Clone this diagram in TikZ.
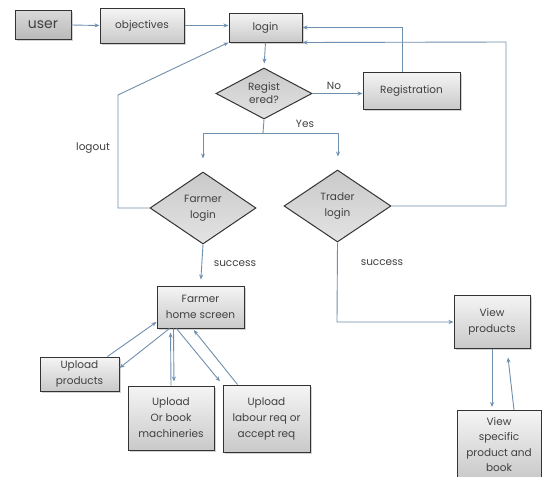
\documentclass[tikz,border=0pt]{standalone}
\usepackage{fontspec}
\setmainfont{Poppins}
\usetikzlibrary{arrows.meta,shapes.geometric,shadows,calc}
\definecolor{lnc}{HTML}{6F8FAE}
\definecolor{txc}{HTML}{404040}
\definecolor{bdc}{HTML}{333333}
\begin{document}
\begin{tikzpicture}[x=1pt,y=-1pt,
  font=\fontsize{10.5}{16}\selectfont,
  every node/.style={text=txc},
  box/.style={draw=bdc,line width=1pt,top color=gray!8,bottom color=gray!42,
    align=center,inner sep=0pt,
    drop shadow={shadow xshift=1.5pt,shadow yshift=-1.5pt,opacity=0.35}},
  dbox/.style={box,top color=gray!30,bottom color=gray!55},
  dia/.style={diamond,draw=bdc,line width=1pt,top color=gray!42,bottom color=gray!22,
    align=center,inner sep=0pt,aspect=2},
  conn/.style={draw=lnc,line width=0.9pt,-{Stealth[length=5pt,width=4pt]}},
  lnk/.style={draw=lnc,line width=0.9pt},
  lbl/.style={inner sep=0pt}
]
\useasboundingbox[fill=white] (0,0) rectangle (542,477);

% nodes
\node[dbox,minimum width=56,minimum height=29,font=\fontsize{14}{16}\selectfont] (user) at (43,25) {user};
\node[box,minimum width=84,minimum height=35] (obj) at (142,25.5) {objectives};
\node[box,minimum width=73,minimum height=29] (login) at (265.5,27.5) {login};
\node[dia,minimum width=96,minimum height=51] (reg) at (264,93.5) {Regist\\[-3pt]ered?};
\node[box,minimum width=97,minimum height=37] (regn) at (411.5,90.5) {Registration};
\node[dia,minimum width=106,minimum height=72] (farmer) at (203,208) {Farmer\\login};
\node[dia,minimum width=107,minimum height=72] (trader) at (337.5,206) {Trader\\login};
\node[box,minimum width=87,minimum height=42] (home) at (200.5,307) {Farmer\\home screen};
\node[box,minimum width=79,minimum height=34] (upl) at (79.5,374) {Upload\\products};
\node[box,minimum width=86,minimum height=64] (mach) at (171,418) {Upload\\Or book\\machineries};
\node[box,minimum width=87,minimum height=67] (lab) at (266.5,418.5) {Upload\\labour req or\\accept req};
\node[box,minimum width=76,minimum height=53] (view) at (492,321.5) {View\\products};
\node[box,minimum width=84,minimum height=68,font=\fontsize{10.5}{15.5}\selectfont] (spec) at (499,444.5) {View\\specific\\product and\\book};

% coordinates
\coordinate (ys) at (263,133);
\coordinate (yl) at (203,133);
\coordinate (yr) at (338,133);
\coordinate (tr1) at (506,206);
\coordinate (tr2) at (506,42);
\coordinate (lo1) at (118,208);
\coordinate (lo2) at (118,95);
\coordinate (ts1) at (337,322);

% connectors
\draw[conn] (user.east) -- (obj.west);
\draw[conn] (obj.east) -- (obj.east -| login.west);
\draw[conn,shorten >=4pt] (login.south) -- (reg.north);
\draw[conn] (reg.east) -- (regn.west |- reg.east);
\node[lbl] at (334,86) {No};
\draw[conn] ([xshift=-9.5pt]regn.north) |- (login.east);
\draw[lnk] (reg.south) -- (ys);
\draw[conn,shorten >=13pt] (yl) -- (yr) (yl) -- (farmer.north);
\draw[conn,shorten >=13pt] (yr) -- (yr |- trader.north);
\node[lbl] at (305,124) {Yes};
\draw[conn] (trader.east) -- (tr1) -- (tr2) -- (login.south east);
\draw[conn] (farmer.west) -- (lo1) -- (lo2) -- (login.south west);
\node[lbl] at (93,148) {logout};
\draw[conn,shorten >=6pt] (farmer.south) -- (home.north);
\node[lbl] at (235,264) {success};
\draw[conn] (trader.south) -- (ts1) -- (view.west |- ts1);
\node[lbl] at (382,263) {success};
\draw[conn,shorten >=3pt] (view.south) -- (view.south |- spec.north);
\draw[conn,shorten >=9pt] ([xshift=15pt]spec.north) -- ([xshift=15pt]view.south);

% farmer home screen links
\draw[conn] ([xshift=68pt]upl.north west) -- ([yshift=-15pt]home.west);
\draw[conn] ([xshift=13pt]home.south west) -- ([yshift=6pt]upl.east);
\draw[conn,shorten >=4pt] ([xshift=17pt]home.south west) -- ([xshift=3pt]mach.north);
\draw[conn,shorten >=4pt] (mach.north) -- ([xshift=14pt]home.south west);
\draw[conn,shorten >=4pt] ([xshift=20pt]home.south west) -- (lab.north west);
\draw[conn,shorten >=2pt] ([xshift=15pt]lab.north west) -- ([xshift=36pt]home.south west);
\end{tikzpicture}
\end{document}
